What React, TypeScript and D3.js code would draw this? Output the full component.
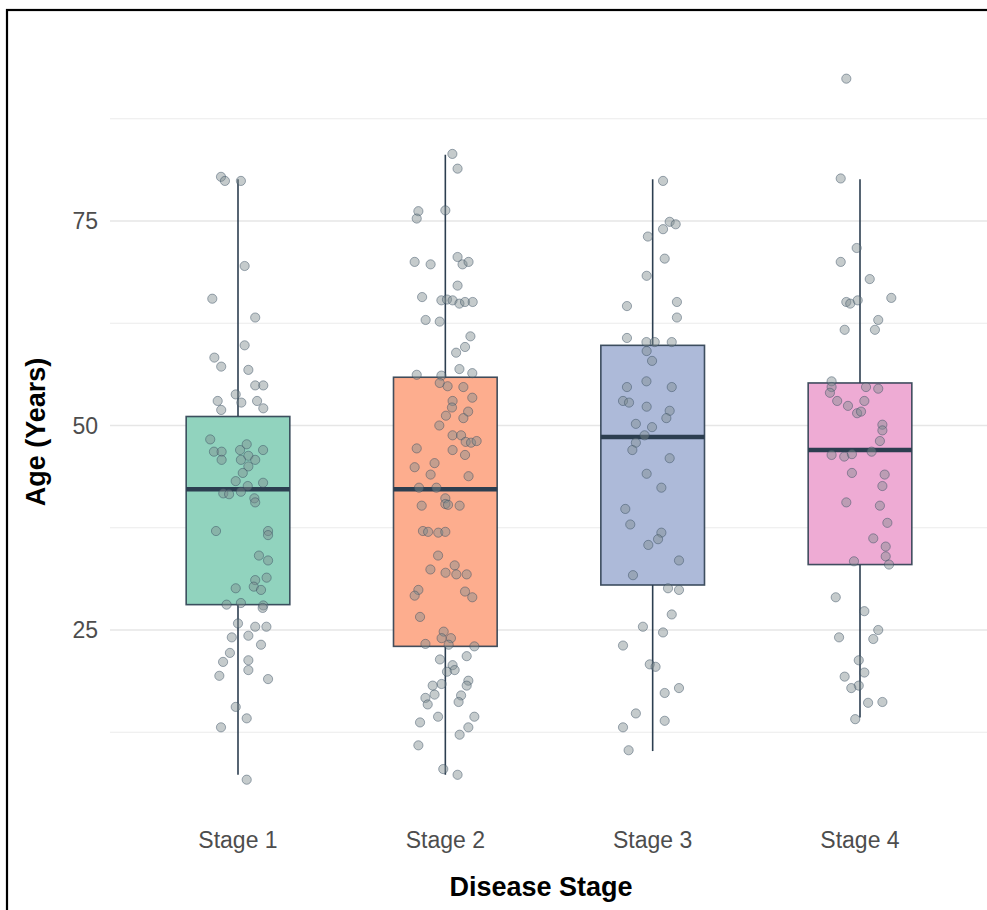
import React from "react";
import * as d3 from "d3";

const stages = ["Stage 1", "Stage 2", "Stage 3", "Stage 4"];
const boxColors = ["#66c2a5", "#fc8d62", "#8da0cb", "#e78ac3"];

// box statistics
const whiskerLow = [7.3, 7.3, 10.2, 14.3];
const q1 = [28.1, 23.0, 30.5, 33.0];
const medians = [42.2, 42.2, 48.6, 47.0];
const q3 = [51.1, 55.9, 59.8, 55.2];
const whiskerHigh = [80.1, 83.1, 80.1, 80.1];

const yTicks = [25, 50, 75];
const yMinorGrid = [12.5, 37.5, 62.5, 87.5];

// [age, horizontal jitter in category units]
const stage1Points = [
  [80.4, -0.082], [79.9, -0.063], [79.9, 0.014], [69.5, 0.032], [65.5, -0.124],
  [63.2, 0.083], [59.8, 0.032], [58.3, -0.114], [57.2, -0.081], [56.8, 0.05],
  [54.9, 0.083], [54.9, 0.122], [53.8, -0.011], [53.0, -0.098], [52.8, 0.016],
  [53.0, 0.092], [51.9, -0.081], [52.1, 0.122], [48.3, -0.134], [47.7, 0.042],
  [46.8, -0.116], [46.8, -0.079], [47.0, 0.01], [47.0, 0.121], [45.8, -0.079],
  [46.3, 0.05], [45.8, 0.014], [45.8, 0.083], [45.0, 0.05], [44.2, 0.023],
  [43.2, -0.011], [43.0, 0.121], [42.6, 0.047], [41.7, -0.071], [41.6, -0.043],
  [41.9, 0.014], [41.1, 0.079], [40.6, 0.083], [37.1, -0.106], [37.1, 0.145],
  [36.6, 0.145], [34.1, 0.101], [33.5, 0.145], [31.1, 0.083], [31.4, 0.138],
  [30.1, -0.011], [30.3, 0.076], [29.9, 0.111], [28.1, -0.055], [28.3, 0.014],
  [28.0, 0.122], [27.7, 0.119], [25.8, 0.0], [25.4, 0.083], [25.4, 0.137],
  [24.1, -0.03], [24.3, 0.05], [23.2, 0.111], [22.2, -0.039], [21.1, -0.072],
  [21.3, 0.05], [20.1, 0.05], [19.4, -0.09], [19.0, 0.145], [15.6, -0.011],
  [14.2, 0.042], [13.1, -0.082], [6.7, 0.042],
];

const stage2Points = [
  [83.2, 0.034], [81.4, 0.059], [76.2, -0.13], [75.3, -0.138], [76.3, 0.0],
  [70.0, -0.148], [69.7, -0.071], [70.6, 0.059], [69.7, 0.083], [70.0, 0.112],
  [67.1, 0.059], [65.7, -0.112], [65.3, -0.019], [65.4, 0.008], [65.3, 0.035],
  [64.9, 0.068], [65.1, 0.095], [65.1, 0.132], [62.9, -0.095], [62.7, -0.027],
  [60.9, 0.121], [59.6, 0.095], [58.9, 0.052], [56.9, 0.068], [56.4, 0.13],
  [56.2, -0.138], [56.1, -0.019], [55.2, -0.027], [54.8, 0.011], [54.7, 0.087],
  [53.4, 0.13], [53.0, 0.035], [52.2, 0.032], [51.7, 0.11], [51.2, 0.003],
  [50.9, 0.087], [50.0, -0.029], [48.8, 0.035], [48.8, 0.076], [48.0, 0.098],
  [47.9, 0.124], [48.1, 0.151], [47.2, -0.138], [47.0, 0.035], [46.4, 0.095],
  [44.9, -0.148], [45.4, -0.052], [44.0, -0.071], [43.8, 0.112], [42.4, -0.127],
  [42.4, -0.043], [41.1, 0.0], [40.4, 0.0], [40.3, 0.013], [40.2, -0.114],
  [40.2, 0.069], [37.1, -0.108], [37.0, -0.083], [36.9, -0.034], [37.0, 0.0],
  [34.1, -0.035], [32.9, 0.045], [32.4, -0.072], [32.0, 0.001], [31.8, 0.053],
  [31.8, 0.103], [29.9, -0.13], [29.2, -0.148], [29.7, 0.095], [29.0, 0.13],
  [26.6, -0.122], [24.8, -0.008], [24.0, -0.018], [24.0, 0.027], [23.3, -0.096],
  [23.2, 0.016], [23.0, 0.14], [21.4, -0.026], [21.8, 0.103], [20.7, 0.035],
  [19.9, 0.008], [20.1, 0.045], [18.4, -0.018], [18.2, -0.061], [18.8, 0.111],
  [18.2, 0.103], [17.1, -0.052], [16.7, -0.096], [15.9, -0.085], [17.0, 0.076],
  [16.2, 0.064], [14.4, -0.035], [14.4, 0.14], [13.7, -0.122], [13.1, 0.111],
  [12.2, 0.069], [10.9, -0.13], [8.0, -0.01], [7.3, 0.059],
];

const stage3Points = [
  [79.9, 0.05], [74.9, 0.082], [74.6, 0.111], [74.0, 0.05], [73.1, -0.023],
  [70.4, 0.058], [68.3, -0.029], [64.6, -0.124], [65.1, 0.117], [63.2, 0.117],
  [60.7, -0.124], [60.2, -0.03], [60.2, 0.01], [60.2, 0.092], [59.1, -0.029],
  [57.9, -0.003], [55.4, -0.03], [54.7, -0.124], [54.7, 0.092], [53.0, -0.143],
  [52.8, -0.114], [52.3, -0.029], [51.8, 0.082], [50.9, 0.066], [50.2, -0.081],
  [49.8, -0.003], [48.8, -0.039], [47.9, -0.081], [47.0, -0.098], [46.0, 0.082],
  [44.1, -0.029], [42.4, 0.042], [39.8, -0.132], [37.9, -0.108], [36.9, 0.042],
  [36.1, 0.026], [35.4, -0.021], [33.5, 0.127], [31.7, -0.095], [30.1, 0.074],
  [29.9, 0.127], [26.9, 0.092], [25.4, -0.047], [24.7, 0.05], [23.1, -0.143],
  [20.8, -0.014], [20.5, 0.014], [17.3, 0.058], [17.9, 0.127], [14.8, -0.081],
  [13.9, 0.058], [13.1, -0.143], [10.3, -0.116],
];

const stage4Points = [
  [92.4, -0.066], [80.2, -0.093], [71.7, -0.016], [70.0, -0.093], [67.9, 0.047],
  [65.1, -0.066], [64.9, -0.047], [65.3, -0.011], [65.6, 0.151], [62.9, 0.088],
  [61.7, -0.074], [61.7, 0.072], [55.4, -0.137], [54.7, -0.137], [54.7, 0.029],
  [54.5, 0.088], [54.0, -0.145], [53.0, -0.11], [53.0, 0.021], [52.4, -0.058],
  [51.5, -0.014], [51.7, 0.005], [50.1, 0.108], [49.4, 0.108], [48.1, 0.096],
  [46.4, -0.137], [46.2, -0.076], [46.5, -0.039], [46.8, 0.056], [44.2, -0.039],
  [44.0, 0.119], [42.6, 0.108], [40.6, -0.066], [40.2, 0.096], [38.1, 0.132],
  [36.2, 0.064], [35.2, 0.124], [34.0, 0.124], [33.4, -0.029], [33.0, 0.14],
  [29.0, -0.117], [27.3, 0.021], [25.0, 0.088], [24.1, -0.101], [23.9, 0.064],
  [21.3, -0.006], [19.8, 0.021], [19.3, -0.074], [18.2, -0.006], [17.9, -0.042],
  [16.1, 0.039], [16.2, 0.108], [14.1, -0.023],
];

const pointsByStage = [stage1Points, stage2Points, stage3Points, stage4Points];

const W = 987;
const H = 910;
const font = "'Liberation Sans', Arial, sans-serif";
const lineColor = "#2c3e50";

export default function App() {
  const x = d3.scalePoint<string>().domain(stages).range([113.6, 984.4]).padding(0.6);
  const step = x.step();
  const y = d3.scaleLinear().domain([0, 100]).range([834.5, 16.5]);
  const boxW = step * 0.5;

  return (
    <svg
      width={W}
      height={H}
      style={{ position: "absolute", left: 0, top: 0, background: "#fff" }}
    >
      <rect x={0} y={0} width={W} height={H} fill="#fff" />

      {/* grid */}
      {yMinorGrid.map((v) => (
        <line key={"m" + v} x1={110} x2={W} y1={y(v)} y2={y(v)} stroke="#ebebeb" strokeWidth={1.2} />
      ))}
      {yTicks.map((v) => (
        <line key={"g" + v} x1={110} x2={W} y1={y(v)} y2={y(v)} stroke="#e6e6e6" strokeWidth={1.6} />
      ))}

      {/* boxes */}
      {stages.map((s, i) => {
        const cx = x(s)!;
        return (
          <g key={s}>
            <line x1={cx} x2={cx} y1={y(whiskerHigh[i])} y2={y(q3[i])} stroke={lineColor} strokeWidth={1.6} />
            <line x1={cx} x2={cx} y1={y(q1[i])} y2={y(whiskerLow[i])} stroke={lineColor} strokeWidth={1.6} />
            <rect x={cx - boxW / 2} y={y(q3[i])} width={boxW} height={y(q1[i]) - y(q3[i])}
              fill="#fff" />
            <rect x={cx - boxW / 2} y={y(q3[i])} width={boxW} height={y(q1[i]) - y(q3[i])}
              fill={boxColors[i]} fillOpacity={0.72} stroke={lineColor} strokeOpacity={0.9} strokeWidth={1.6} />
            <line x1={cx - boxW / 2} x2={cx + boxW / 2} y1={y(medians[i])} y2={y(medians[i])}
              stroke={lineColor} strokeWidth={4.5} />
          </g>
        );
      })}

      {/* jittered points */}
      {pointsByStage.map((pts, i) =>
        pts.map(([age, j], k) => (
          <circle key={i + "-" + k} cx={x(stages[i])! + j * step} cy={y(age)} r={4.6}
            fill="#7f8c8d" fillOpacity={0.45} stroke="#34495e" strokeOpacity={0.45} strokeWidth={1} />
        ))
      )}

      {/* y tick labels */}
      {yTicks.map((v) => (
        <text key={"t" + v} x={98} y={y(v)} dy="0.36em" textAnchor="end" fontFamily={font}
          fontSize={23} fill="#4d4d4d">{v}</text>
      ))}

      {/* x tick labels */}
      {stages.map((s) => (
        <text key={"x" + s} x={x(s)!} y={848} textAnchor="middle" fontFamily={font}
          fontSize={23} fill="#4d4d4d">{s}</text>
      ))}

      {/* axis titles */}
      <text x={541} y={896} textAnchor="middle" fontFamily={font} fontSize={27}
        fontWeight="bold" fill="#000">Disease Stage</text>
      <text transform="translate(45,432) rotate(-90)" textAnchor="middle" fontFamily={font}
        fontSize={27} fontWeight="bold" fill="#000">Age (Years)</text>

      {/* frame */}
      <rect x={7} y={10} width={W + 20} height={H + 20} fill="none" stroke="#000" strokeWidth={2.2} />
    </svg>
  );
}
